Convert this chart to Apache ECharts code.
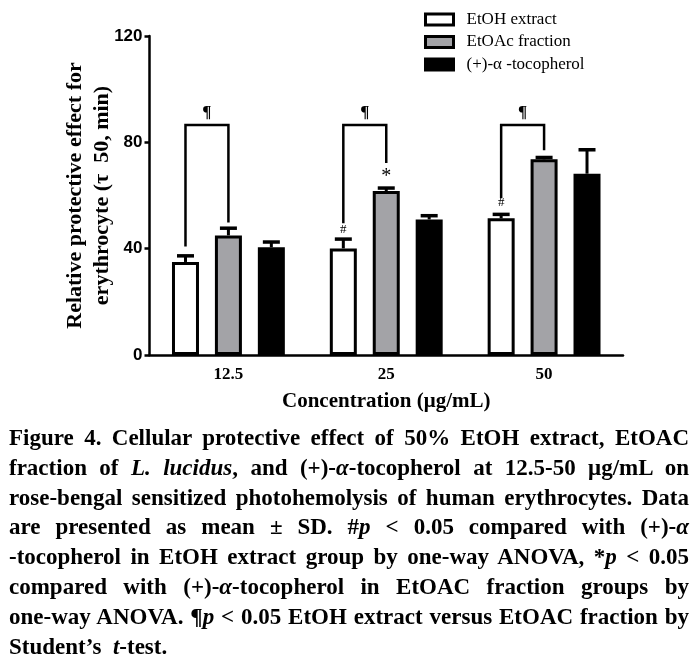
<!DOCTYPE html>
<html><head><meta charset="utf-8">
<script src="https://cdn.jsdelivr.net/npm/echarts@6/dist/echarts.min.js"></script>
<style>
html,body{margin:0;padding:0;background:#fff;}
#chart{position:absolute;left:0;top:0;width:698px;height:669px;}
#caption{position:absolute;left:9px;top:423px;width:700px;transform:scaleX(1);transform-origin:0 0;font-family:'Liberation Serif','Times New Roman',serif;font-weight:bold;font-size:23px;line-height:29.8px;color:#000;}
#caption div{white-space:nowrap;}
#caption span{white-space:nowrap;}
</style></head>
<body>
<div id="chart"></div>
<div id="caption">
<div><span>Figure 4. Cellular protective effect of 50% EtOH extract, EtOAC</span></div>
<div><span>fraction of <i>L. lucidus</i>, and (+)-<i>α</i>-tocopherol at 12.5-50 μg/mL on</span></div>
<div><span>rose-bengal sensitized photohemolysis of human erythrocytes. Data</span></div>
<div><span>are presented as mean ± SD. #<i>p</i> &lt; 0.05 compared with (+)-<i>α</i></span></div>
<div><span>-tocopherol in EtOH extract group by one-way ANOVA, *<i>p</i> &lt; 0.05</span></div>
<div><span>compared with (+)-<i>α</i>-tocopherol in EtOAC fraction groups by</span></div>
<div><span>one-way ANOVA. ¶<i>p</i> &lt; 0.05 EtOH extract versus EtOAC fraction by</span></div>
<div class="last"><span>Student’s&nbsp; <i>t</i>-test.</span></div>
</div>
<script>
// ---- data ----
const categories = ['12.5', '25', '50'];
const seriesNames = ['EtOH extract', 'EtOAc fraction', '(+)-α -tocopherol'];
const etohMean = [35, 40.1, 51.4];
const etohSD = [2.3, 3.5, 1.5];
const etoacMean = [45, 61.7, 73.6];
const etoacSD = [2.7, 1.1, 0.7];
const tocoMean = [40.5, 51, 68.2];
const tocoSD = [2.0, 1.4, 9.0];
const yTicks = [0, 40, 80, 120];
// significance brackets (EtOH vs EtOAc), in axis units
const bracketTop = [86.5, 86.5, 86.5];
const bracketLeftEnd = [40.8, 49.6, 59];
const bracketRightEnd = [49.8, 72.2, 77];
const hashMarks = [null, 47, 57.5];   // '#' above EtOH extract bars
const starMarks = [null, 68.5, null]; // '*' above EtOAc fraction bars

// ---- caption justification (fit each line to the text block width) ----
(function () {
  const SCALE = 1, TARGET = 680 / SCALE;
  document.querySelectorAll('#caption > div').forEach(function (d) {
    if (d.classList.contains('last')) return;
    const sp = d.firstElementChild;
    const w = sp.getBoundingClientRect().width / SCALE;
    const n = (sp.textContent.match(/ /g) || []).length;
    if (n > 0) sp.style.wordSpacing = ((TARGET - w) / n) + 'px';
  });
})();

// ---- style ----
const SERIF = "'Liberation Serif','Times New Roman',serif";
const SANS = "'Liberation Sans',Arial,sans-serif";
const BAR_W = 27, BAR_GAP = 0.59;
const STEP = BAR_W * (1 + BAR_GAP);
const fills = ['#ffffff', '#a3a3a7', '#000000'];
const means = [etohMean, etoacMean, tocoMean];
const sds = [etohSD, etoacSD, tocoSD];

const chart = echarts.init(document.getElementById('chart'), null, {renderer: 'canvas'});

function errorSeries(k) {
  return {
    type: 'custom',
    name: 'err' + k,
    z: 5,
    data: categories.map((c, i) => [i, means[k][i], sds[k][i]]),
    renderItem: function (params, api) {
      const i = api.value(0), m = api.value(1), s = api.value(2);
      const p0 = api.coord([i, m]);
      const p1 = api.coord([i, m + s]);
      const x = p0[0] + (k - 1) * STEP;
      const half = 8.5;
      return {
        type: 'group',
        children: [
          {type: 'line', shape: {x1: x, y1: p0[1], x2: x, y2: p1[1]}, style: {stroke: '#000', lineWidth: 3}},
          {type: 'line', shape: {x1: x - half, y1: p1[1], x2: x + half, y2: p1[1]}, style: {stroke: '#000', lineWidth: 3.5}}
        ]
      };
    }
  };
}

const annotSeries = {
  type: 'custom',
  name: 'annot',
  z: 6,
  data: categories.map((c, i) => [i, bracketTop[i], bracketLeftEnd[i], bracketRightEnd[i],
    hashMarks[i] == null ? NaN : hashMarks[i], starMarks[i] == null ? NaN : starMarks[i]]),
  renderItem: function (params, api) {
    const i = api.value(0);
    const top = api.coord([i, api.value(1)]);
    const lEnd = api.coord([i, api.value(2)]);
    const rEnd = api.coord([i, api.value(3)]);
    const xL = top[0] - STEP, xR = top[0];
    const children = [
      {type: 'polyline', shape: {points: [[xL, lEnd[1]], [xL, top[1]], [xR, top[1]], [xR, rEnd[1]]]},
        style: {stroke: '#000', lineWidth: 2.5, fill: null}},
      {type: 'text', style: {text: '¶', x: (xL + xR) / 2, y: top[1] - 4, align: 'center', verticalAlign: 'bottom',
        font: 'bold 17px ' + SERIF, fill: '#000'}}
    ];
    const h = api.value(4);
    if (!isNaN(h)) {
      const ph = api.coord([i, h]);
      children.push({type: 'text', style: {text: '#', x: xL, y: ph[1], align: 'center', verticalAlign: 'middle',
        font: '13px ' + SERIF, fill: '#000'}});
    }
    const st = api.value(5);
    if (!isNaN(st)) {
      const ps = api.coord([i, st]);
      children.push({type: 'text', style: {text: '*', x: xR, y: ps[1] + 4, align: 'center', verticalAlign: 'middle',
        font: '20px ' + SERIF, fill: '#000'}});
    }
    return {type: 'group', children: children};
  }
};

const barSeries = seriesNames.map((name, k) => ({
  type: 'bar',
  name: name,
  data: means[k],
  barWidth: BAR_W,
  barGap: (BAR_GAP * 100) + '%',
  itemStyle: {color: fills[k], borderColor: '#000', borderWidth: 3},
  emphasis: {disabled: true},
  z: 3
}));

const option = {
  animation: false,
  backgroundColor: '#fff',
  grid: {left: 149.5, right: 75, top: 36, bottom: 314, containLabel: false},
  legend: {
    orient: 'vertical',
    left: 419,
    top: 6,
    itemWidth: 28,
    itemHeight: 11,
    itemGap: 5.5,
    icon: 'rect',
    selectedMode: false,
    textStyle: {fontFamily: SERIF, fontSize: 17, color: '#000', padding: [0, 0, 0, 8]},
    data: seriesNames.map((n, k) => ({name: n, itemStyle: {color: fills[k], borderColor: '#000', borderWidth: 3}}))
  },
  xAxis: {
    type: 'category',
    data: categories,
    axisLine: {show: true, lineStyle: {color: '#000', width: 2.5}},
    axisTick: {show: false},
    axisLabel: {fontFamily: SERIF, fontWeight: 'bold', fontSize: 17, color: '#000', margin: 11},
    name: 'Concentration (μg/mL)',
    nameLocation: 'middle',
    nameGap: 36,
    nameMoveOverlap: false,
    nameTextStyle: {fontFamily: SERIF, fontWeight: 'bold', fontSize: 21, color: '#000'}
  },
  yAxis: {
    type: 'value',
    min: yTicks[0],
    max: yTicks[yTicks.length - 1],
    interval: yTicks[1] - yTicks[0],
    splitLine: {show: false},
    axisLine: {show: true, lineStyle: {color: '#000', width: 2.5}},
    axisTick: {show: true, length: 5, lineStyle: {color: '#000', width: 2.5}},
    axisLabel: {fontFamily: SANS, fontWeight: 'bold', fontSize: 17, color: '#000', margin: 7},
    name: 'Relative protective effect for\nerythrocyte (τ  50, min)',
    nameLocation: 'middle',
    nameRotate: 90,
    nameGap: 34,
    nameMoveOverlap: false,
    nameTextStyle: {fontFamily: SERIF, fontWeight: 'bold', fontSize: 22, lineHeight: 27, color: '#000', align: 'center'}
  },
  series: barSeries.concat([errorSeries(0), errorSeries(1), errorSeries(2), annotSeries])
};
chart.setOption(option);
</script>
</body></html>
